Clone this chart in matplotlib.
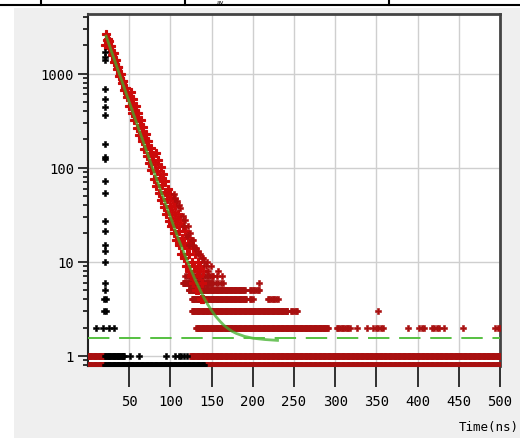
import matplotlib
matplotlib.use("Agg")
import matplotlib.pyplot as plt
import numpy as np
from matplotlib.lines import Line2D
from matplotlib.patches import Rectangle

# ---- data ----
# decay histogram (one channel per ns, t = 21 .. 140)
decay_start = 21
decay_counts = [
    2000,
    2650, 2250, 2340, 2200, 1890, 1970, 1980, 1590, 1660, 1670,
    1340, 1390, 1400, 1120, 1170, 1180, 950, 990, 995, 800,
    830, 835, 670, 700, 705, 565, 590, 590,
    450, 565, 645, 378, 476, 542, 319, 400, 457, 267,
    337, 385, 225, 283, 323, 190, 239, 273, 159, 200,
    229, 134, 169, 193, 113, 142, 162, 95, 120, 136,
    76, 109, 142, 64, 92, 121, 54, 78, 101, 45,
    65, 85, 38, 55, 72, 32, 46, 59, 27, 39,
    52, 24, 34, 45, 20, 29, 39, 17, 25, 32,
    15, 21, 28, 12, 18, 24, 11, 16, 21, 9,
    14, 18, 8, 12, 16, 7, 10, 14, 6, 9,
    12, 5, 8, 10, 5, 7, 9, 4, 6, 8,
    4,
]

# scattered high points to the right of the decay band
scatter_t = [104, 108, 112, 115, 118, 121, 124, 126, 128, 131, 133,
             136, 138, 141, 143, 146, 149, 152, 158, 163, 156, 150, 123, 127,
             130, 134, 139, 144, 120, 117, 110, 106]
scatter_counts = [52, 44, 37, 31, 28, 24, 20, 17, 15, 14, 13,
                  12, 11, 10, 9, 8, 9, 7, 8, 7, 7, 7, 15, 17,
                  14, 12, 11, 10, 19, 24, 40, 48]

# low-count rows: (count, first ns, last ns, step)
red_rows = [
    (7, 118, 148, 2),
    (6, 115, 150, 1), (6, 152, 165, 3), (6, 208, 208, 1),
    (5, 122, 190, 1), (5, 196, 208, 2),
    (4, 126, 192, 1), (4, 196, 200, 2), (4, 218, 230, 2),
    (3, 126, 242, 1), (3, 246, 254, 2), (3, 352, 352, 1),
    (2, 131, 291, 1), (2, 302, 318, 2), (2, 326, 326, 1), (2, 338, 338, 1),
    (2, 346, 358, 3), (2, 388, 388, 1), (2, 402, 409, 3), (2, 417, 427, 3),
    (2, 432, 432, 1), (2, 455, 455, 1), (2, 494, 500, 3),
    (1, 0, 20, 1), (1, 124, 500, 1),
    (0, 0, 20, 1), (0, 142, 500, 1),
]
black_rows = [
    (1, 21, 44, 1), (1, 51, 51, 1), (1, 62, 62, 1), (1, 95, 95, 1),
    (1, 106, 106, 1), (1, 110, 110, 1), (1, 113, 113, 1), (1, 117, 117, 1),
    (1, 120, 120, 1),
    (0, 21, 141, 1),
    (2, 10, 10, 1), (2, 18, 18, 1), (2, 26, 26, 1), (2, 32, 32, 1),
]

# instrument response column
irf_t = [21, 21, 21, 21, 21, 21, 21, 21, 21, 21, 21, 21, 21, 21,
         21, 21, 21, 21, 21, 20, 22, 20, 22]
irf_counts = [1700, 1500, 1400, 690, 540, 445, 360, 180, 130, 125, 73, 54,
              27, 21, 15, 13, 10, 6, 5, 4, 4, 3, 3]

# fitted curve and background level
fit_t = [22, 40, 60, 80, 100, 110, 120, 130, 140, 145, 150, 155, 160, 165,
         170, 175, 180, 190, 200, 215, 230]
fit_counts = [2501, 888, 282, 90.5, 29.8, 17.2, 10.4, 6.45, 4.25, 3.55, 3.03,
              2.63, 2.34, 2.11, 1.95, 1.82, 1.73, 1.61, 1.54, 1.49, 1.46]
background = 1.55

zero_level = 0.8   # where empty channels are drawn on the log axis

x_ticks = [50, 100, 150, 200, 250, 300, 350, 400, 450, 500]
y_ticks = [1, 10, 100, 1000]


def expand(rows):
    ts, cs = [], []
    for c, a, b, s in rows:
        for t in range(a, b + 1, s):
            ts.append(t)
            cs.append(c if c > 0 else zero_level)
    return ts, cs


plt.rcParams['font.family'] = 'DejaVu Sans Mono'

fig = plt.figure(figsize=(5.2, 4.39), dpi=100)

# grey panel and the table strip above it
fig.add_artist(Rectangle((14 / 520, 0), 1, 1 - 9 / 439, transform=fig.transFigure,
                         facecolor='#efefef', edgecolor='none', zorder=-5))
fig.add_artist(Line2D([0, 1], [1 - 6 / 439] * 2, transform=fig.transFigure,
                      color='black', lw=1.5))
for xp in [41, 185, 389]:
    fig.add_artist(Line2D([xp / 520] * 2, [1 - 6 / 439, 1], transform=fig.transFigure,
                          color='black', lw=1.5))
fig.text(220 / 520, 1 - 0.5 / 439, 'av', fontsize=4.5, ha='center', va='top')

ax = fig.add_axes([88 / 520, 72 / 439, 412 / 520, 352 / 439])
ax.set_facecolor('white')
ax.set_yscale('log')
ax.set_xlim(0, 500)
ax.set_ylim(0.78, 4300)

mk = dict(linestyle='none', marker='P', markersize=3.9, markeredgewidth=0.4)
mk_big = dict(linestyle='none', marker='P', markersize=5.2, markeredgewidth=0.8)

rt, rc = expand(red_rows)
ax.plot(rt, rc, color='#a81010', zorder=3, **mk)
decay_t = list(range(decay_start, decay_start + len(decay_counts)))
ax.plot(decay_t, decay_counts, color='#cc0a0a', zorder=3, **mk_big)
ax.plot(scatter_t, scatter_counts, color='#b00c0c', zorder=3, **mk)

bt, bc = expand(black_rows)
ax.plot(bt, bc, color='black', zorder=4, **mk)
ax.plot(irf_t, irf_counts, color='black', zorder=4, **mk)

ax.plot(fit_t, fit_counts, color='#3fb02a', lw=2, alpha=0.75, zorder=5)
ax.axhline(background, color='#55c040', lw=1.4, dashes=(11, 5), zorder=5)

ax.set_xticks(x_ticks)
ax.set_yticks(y_ticks)
ax.set_yticklabels([str(v) for v in y_ticks])
ax.yaxis.set_minor_formatter(matplotlib.ticker.NullFormatter())
ax.grid(True, which='major', color='#cfcfcf', lw=1)
ax.set_axisbelow(True)

ax.tick_params(axis='x', direction='out', length=15, width=1.3, pad=5,
               labelsize=10, color='#222222')
ax.tick_params(axis='y', which='major', direction='out', length=7, width=1.3,
               pad=3, labelsize=10, color='#222222')
ax.tick_params(axis='y', which='minor', direction='out', length=3.5, width=1.3,
               color='#222222')

for side in ['top', 'right']:
    ax.spines[side].set_color('#444444')
    ax.spines[side].set_linewidth(2)
for side in ['left', 'bottom']:
    ax.spines[side].set_color('#222222')
    ax.spines[side].set_linewidth(1.5)

fig.text(519 / 520, 11 / 439, 'Time(ns)', fontsize=9, ha='right', va='center')

fig.savefig('out.png', dpi=100)
